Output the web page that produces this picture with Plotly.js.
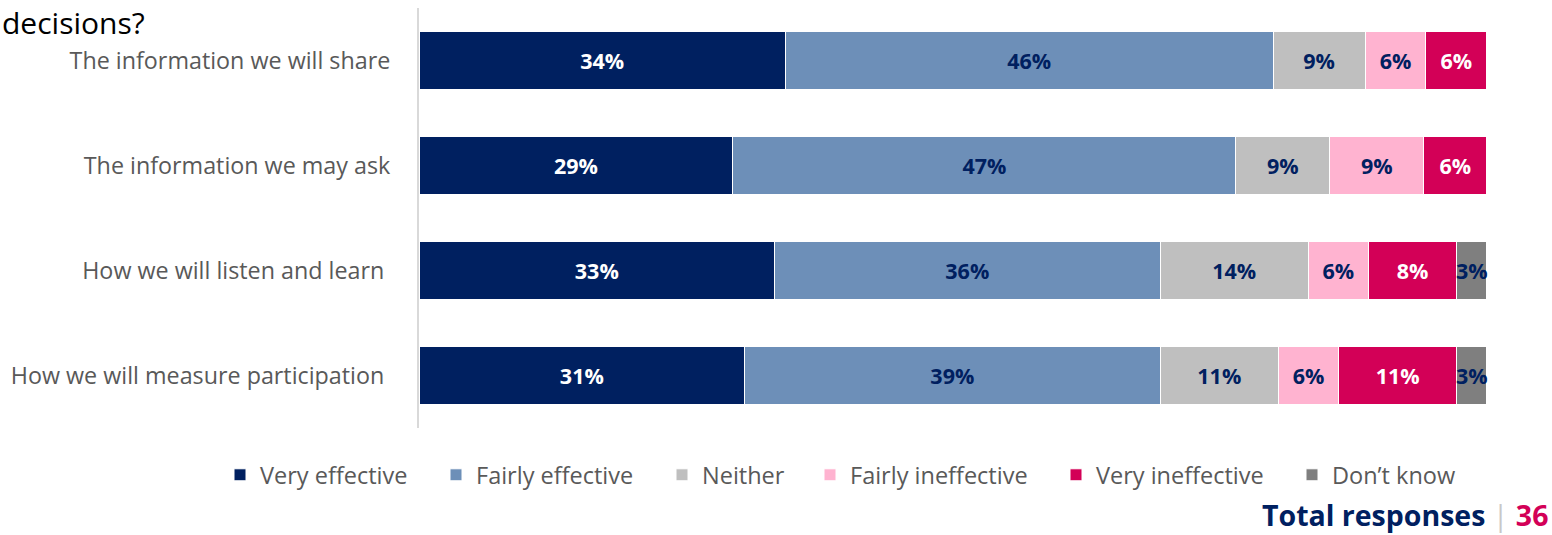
<!DOCTYPE html>
<html><head><meta charset="utf-8">
<script src="https://cdn.plot.ly/plotly-3.0.1.min.js"></script>
<style>html,body{margin:0;padding:0;background:#fff}#chart{width:1552px;height:535px}</style>
</head><body><div id="chart"></div>
<script>
const categories = ["The information we will share", "The information we may ask", "How we will listen and learn\u00a0", "How we will measure participation\u00a0"];
const veryEffective   = [34.3, 29.4, 33.3, 30.5];
const fairlyEffective = [45.7, 47.1, 36.1, 38.9];
const neither         = [8.6, 8.8, 13.9, 11.1];
const fairlyIneffective = [5.7, 8.8, 5.6, 5.6];
const veryIneffective = [5.7, 5.9, 8.3, 11.1];
const dontKnow        = [0, 0, 2.8, 2.8];
const seriesNames = ["Very effective", "Fairly effective", "Neither", "Fairly ineffective", "Very ineffective", "Don\u2019t know"];
const seriesValues = [veryEffective, fairlyEffective, neither, fairlyIneffective, veryIneffective, dontKnow];
const colors = ["#002060", "#6D8FB8", "#BFBFBF", "#FFB3D0", "#D30057", "#7F7F7F"];
const textColors = ["#ffffff", "#002060", "#002060", "#002060", "#ffffff", "#002060"];

const FONT = "'Open Sans', 'Noto Sans', sans-serif";
const legendIds = ["legend", "legend2", "legend3", "legend4", "legend5", "legend6"];
const legendTextStartPx = [258, 474, 700, 848, 1094, 1330];

const traces = seriesNames.map((name, i) => ({
  type: "bar", orientation: "h", name: name, legend: legendIds[i],
  y: categories, x: seriesValues[i],
  marker: {color: colors[i], line: {color: "#ffffff", width: 1}},
  text: seriesValues[i].map(v => v > 0 ? Math.round(v) + "%" : ""),
  texttemplate: "%{text}",
  textposition: "inside", insidetextanchor: "middle", constraintext: "none",
  textangle: 0, cliponaxis: false,
  textfont: {family: FONT, size: 21.5, color: textColors[i], weight: "bold"},
  hoverinfo: "skip"
}));

const plotLeft = 419, plotW = 1068, plotTop = 8, plotH = 420;
const layout = {
  width: 1552, height: 535,
  margin: {l: plotLeft, r: 1552 - plotLeft - plotW, t: plotTop, b: 535 - plotTop - plotH},
  barmode: "stack", bargap: 0.45,
  paper_bgcolor: "#fff", plot_bgcolor: "#fff",
  font: {family: FONT, size: 20, color: "#595959"},
  xaxis: {range: [0, 100.02], visible: false, fixedrange: true},
  yaxis: {autorange: "reversed", showline: true, linecolor: "#D9D9D9", linewidth: 2,
          ticks: "outside", ticklen: 22, tickcolor: "rgba(0,0,0,0)",
          showgrid: false, zeroline: false, automargin: false,
          tickfont: {family: FONT, size: 23.3, color: "#595959"}},
  showlegend: true,
  annotations: [
    {xref: "paper", yref: "paper", x: -plotLeft/plotW, xanchor: "left", y: 1 + 8/plotH, yanchor: "top",
     text: "decisions?", showarrow: false, font: {family: FONT, size: 30, color: "#000000"}},
    {xref: "paper", yref: "paper", x: 1 + 63/plotW, xanchor: "right", y: -87/plotH, yanchor: "middle",
     text: "<b>Total responses</b> <span style='color:#C8C8C8'>|</span> <b><span style='color:#D30057'>36</span></b>",
     showarrow: false, font: {family: FONT, size: 28.5, color: "#002060"}}
  ]
};
legendIds.forEach((id, i) => {
  layout[id] = {orientation: "h", x: (legendTextStartPx[i] - 38 - plotLeft) / plotW, xanchor: "left",
                y: -47 / plotH, yanchor: "middle", bgcolor: "rgba(0,0,0,0)",
                font: {family: FONT, size: 23.5, color: "#595959"}, itemwidth: 30};
});
Plotly.newPlot("chart", traces, layout, {staticPlot: true, displayModeBar: false});
</script></body></html>
